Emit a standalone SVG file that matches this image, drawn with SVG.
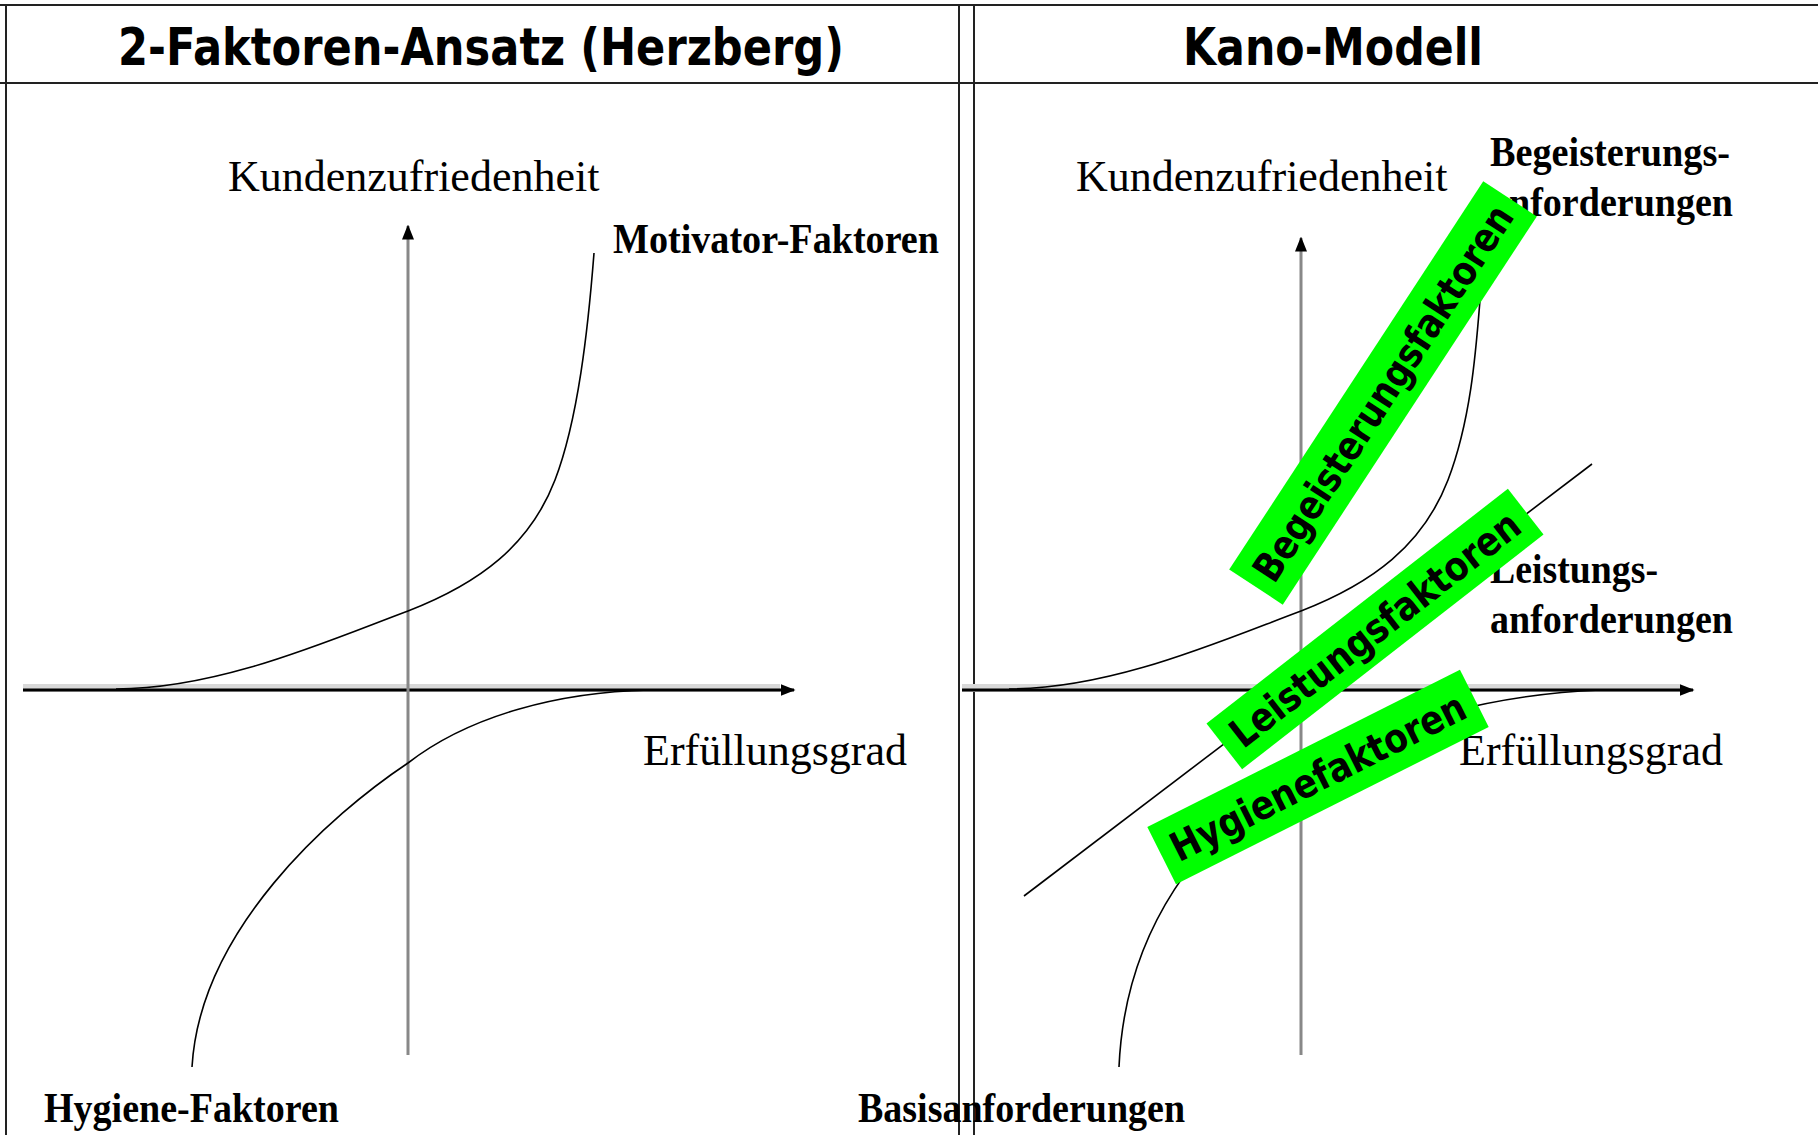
<svg xmlns="http://www.w3.org/2000/svg" width="1818" height="1135" viewBox="0 0 1818 1135">
<defs>
<style>
.frame{stroke:#222;stroke-width:2;fill:none}
.xaxis{stroke:#000;stroke-width:3;fill:none}
.halo{stroke:#d8d8d8;stroke-width:8;fill:none}
.yaxis{stroke:#888;stroke-width:3;fill:none}
.curve{stroke:#000;stroke-width:1.6;fill:none}
.hdr{font-family:"DejaVu Sans",Verdana,sans-serif;font-weight:bold;font-size:52px;fill:#000}
.lbl{font-family:"Liberation Serif","Times New Roman",serif;font-size:44px;fill:#000}
.lblb{font-family:"Liberation Serif","Times New Roman",serif;font-size:42px;font-weight:bold;fill:#000}
.tag rect{fill:#00ff00}
.tag text{font-family:"DejaVu Sans",Verdana,sans-serif;font-weight:bold;font-size:40px;fill:#000;text-anchor:middle}
</style>
<marker id="arr" markerWidth="5" markerHeight="4" refX="4.5" refY="2" orient="auto" markerUnits="strokeWidth">
<path d="M0,0 L5,2 L0,4 z" fill="#000"/>
</marker>
</defs>
<rect width="1818" height="1135" fill="#fff"/>
<g id="frame">
<line class="frame" x1="0" y1="5" x2="1818" y2="5"/>
<line class="frame" x1="0" y1="83" x2="1818" y2="83"/>
<line class="frame" x1="6" y1="5" x2="6" y2="1135"/>
<line class="frame" x1="959" y1="5" x2="959" y2="1135"/>
<line class="frame" x1="974" y1="5" x2="974" y2="1135"/>
</g>
<g id="header-left"><text class="hdr" x="118" y="65" textLength="726" lengthAdjust="spacingAndGlyphs">2-Faktoren-Ansatz (Herzberg)</text></g>
<g id="header-right"><text class="hdr" x="1183" y="65" textLength="300" lengthAdjust="spacingAndGlyphs">Kano-Modell</text></g>
<g id="connectors">
<line class="halo" x1="23" y1="688" x2="780" y2="688"/>
<line class="xaxis" x1="23" y1="690" x2="794" y2="690" marker-end="url(#arr)"/>
<line class="yaxis" x1="408" y1="1055" x2="408" y2="226" marker-end="url(#arr)"/>
<path class="curve" d="M116,689 C220,689 330,640 408,611 C480,583 530,545 555,480 C578,420 588,330 594,253"/>
<path class="curve" d="M649,690 C560,692 470,715 408,763 C330,815 200,930 192,1067"/>
<line class="halo" x1="962" y1="688" x2="1680" y2="688"/>
<line class="xaxis" x1="962" y1="690" x2="1693" y2="690" marker-end="url(#arr)"/>
<line class="yaxis" x1="1301" y1="1055" x2="1301" y2="238" marker-end="url(#arr)"/>
<path class="curve" d="M1009,689 C1113,689 1223,640 1301,611 C1373,583 1423,545 1448,480 C1471,420 1476,350 1480,300"/>
<path class="curve" d="M1600,690 C1500,694 1390,720 1301,770 C1200,830 1125,930 1119,1067"/>
<line class="curve" x1="1024" y1="896" x2="1592" y2="464"/>
</g>
<g id="label-kz-left"><text class="lbl" x="228" y="191">Kundenzufriedenheit</text></g>
<g id="label-motivator"><text class="lblb" x="613" y="253" textLength="326" lengthAdjust="spacingAndGlyphs">Motivator-Faktoren</text></g>
<g id="label-eg-left"><text class="lbl" x="643" y="765">Erfüllungsgrad</text></g>
<g id="label-hygiene"><text class="lblb" x="44" y="1122" textLength="295" lengthAdjust="spacingAndGlyphs">Hygiene-Faktoren</text></g>
<g id="label-kz-right"><text class="lbl" x="1076" y="191">Kundenzufriedenheit</text></g>
<g id="label-begeisterung"><text class="lblb" x="1490" y="166" textLength="240" lengthAdjust="spacingAndGlyphs">Begeisterungs-</text><text class="lblb" x="1490" y="216" textLength="243" lengthAdjust="spacingAndGlyphs">anforderungen</text></g>
<g id="label-leistung"><text class="lblb" x="1490" y="583" textLength="168" lengthAdjust="spacingAndGlyphs">Leistungs-</text><text class="lblb" x="1490" y="633" textLength="243" lengthAdjust="spacingAndGlyphs">anforderungen</text></g>
<g id="label-eg-right"><text class="lbl" x="1459" y="765">Erfüllungsgrad</text></g>
<g id="label-basis"><text class="lblb" x="858" y="1122" textLength="327" lengthAdjust="spacingAndGlyphs">Basisanforderungen</text></g>
<g id="tag-begeisterung" class="tag" transform="translate(1383,393) rotate(-56.8)"><rect x="-232" y="-32" width="464" height="64"/><text x="0" y="14" textLength="440" lengthAdjust="spacingAndGlyphs">Begeisterungsfaktoren</text></g>
<g id="tag-leistung" class="tag" transform="translate(1375,629) rotate(-37.9)"><rect x="-191" y="-29" width="382" height="58"/><text x="0" y="14" textLength="356" lengthAdjust="spacingAndGlyphs">Leistungsfaktoren</text></g>
<g id="tag-hygiene" class="tag" transform="translate(1318,777) rotate(-26.7)"><rect x="-175" y="-32" width="350" height="64"/><text x="0" y="14" textLength="325" lengthAdjust="spacingAndGlyphs">Hygienefaktoren</text></g>
</svg>
